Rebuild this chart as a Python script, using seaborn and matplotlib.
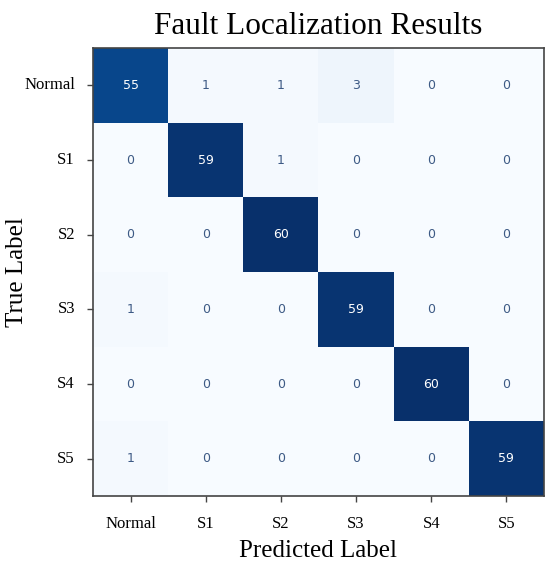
import numpy as np
import pandas as pd
import seaborn as sns
import matplotlib.pyplot as plt

labels = ["Normal", "S1", "S2", "S3", "S4", "S5"]
row_normal = [55, 1, 1, 3, 0, 0]
row_s1 = [0, 59, 1, 0, 0, 0]
row_s2 = [0, 0, 60, 0, 0, 0]
row_s3 = [1, 0, 0, 59, 0, 0]
row_s4 = [0, 0, 0, 0, 60, 0]
row_s5 = [1, 0, 0, 0, 0, 59]

cm = pd.DataFrame([row_normal, row_s1, row_s2, row_s3, row_s4, row_s5],
                  index=labels, columns=labels)

serif = ["Liberation Serif", "DejaVu Serif"]

fig = plt.figure(figsize=(5.5, 5.65), dpi=100)
ax = fig.add_axes([0.169, 0.122, 0.82, 0.793])

sns.heatmap(cm, ax=ax, cmap="Blues", vmin=0, vmax=60, cbar=False,
            annot=False, square=False)

# annotate cells, white text on dark cells
for i in range(len(labels)):
    for j in range(len(labels)):
        v = cm.iloc[i, j]
        color = "white" if v > 30 else "#3d5a85"
        ax.text(j + 0.5, i + 0.5, str(v), ha="center", va="center",
                fontsize=9, color=color, family="DejaVu Sans")

for s in ax.spines.values():
    s.set_visible(True)
    s.set_color("#444444")
    s.set_linewidth(1.2)

ax.tick_params(axis="x", length=4, width=1, color="#444444", pad=10)
ax.tick_params(axis="y", length=4, width=1, color="#444444", pad=9)
ax.set_xticklabels(labels, rotation=0, fontsize=12, family=serif)
ax.set_yticklabels(labels, rotation=0, fontsize=12, family=serif)
ax.set_xlabel("Predicted Label", fontsize=18, family=serif, labelpad=6)
ax.set_ylabel("True Label", fontsize=18, family=serif)
ax.yaxis.set_label_coords(-0.145, 0.5)
ax.set_title("Fault Localization Results", fontsize=22.5, family=serif, pad=10)

fig.savefig("out.png", dpi=100)
